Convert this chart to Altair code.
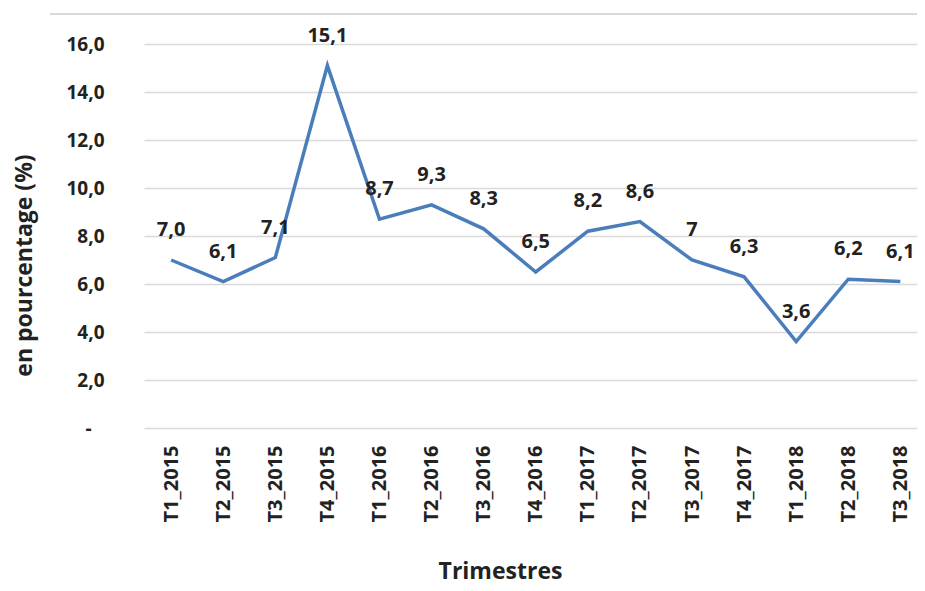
import altair as alt
import pandas as pd

trimestres = ["T1_2015", "T2_2015", "T3_2015", "T4_2015", "T1_2016", "T2_2016",
              "T3_2016", "T4_2016", "T1_2017", "T2_2017", "T3_2017", "T4_2017",
              "T1_2018", "T2_2018", "T3_2018"]
valeurs = [7.0, 6.1, 7.1, 15.1, 8.7, 9.3, 8.3, 6.5, 8.2, 8.6, 7.0, 6.3, 3.6, 6.2, 6.1]
etiquettes = ["7,0", "6,1", "7,1", "15,1", "8,7", "9,3", "8,3", "6,5", "8,2", "8,6",
              "7", "6,3", "3,6", "6,2", "6,1"]

df = pd.DataFrame({"trimestre": trimestres, "valeur": valeurs, "etiquette": etiquettes})

FONT = "Open Sans"
TXT = "#222222"

x_enc = alt.X(
    "trimestre:N", sort=trimestres,
    scale=alt.Scale(type="point", padding=0.42, align=0.62),
    axis=alt.Axis(
        title="Trimestres", labelAngle=-90, labelAlign="right", labelBaseline="middle",
        labelPadding=17, ticks=False, domain=False, grid=False,
        labelFont=FONT, labelFontSize=20, labelFontWeight="bold", labelColor=TXT,
        titleFont=FONT, titleFontSize=23, titleFontWeight="bold", titleColor=TXT,
        titleX=356, titleY=150, titleAlign="center", titleBaseline="alphabetic",
    ),
)
y_enc = alt.Y(
    "valeur:Q",
    scale=alt.Scale(domain=[0, 16], nice=False),
    axis=alt.Axis(
        title="en pourcentage (%)", values=[0, 2, 4, 6, 8, 10, 12, 14, 16],
        labelExpr="datum.value == 0 ? '-' : replace(format(datum.value, '.1f'), '.', ',')",
        ticks=False, domain=False, grid=True, gridColor="#d9d9d9", gridWidth=1.5,
        labelPadding={"condition": {"test": "datum.value == 0", "value": 53}, "value": 40},
        labelFont=FONT, labelFontSize=19, labelFontWeight="bold",
        labelColor=TXT,
        titleFont=FONT, titleFontSize=23, titleFontWeight="bold", titleColor=TXT,
        titleX=-120, titleY=221, titleAngle=-90, titleAlign="center", titleBaseline="middle",
    ),
)

base = alt.Chart(df)

line = base.mark_line(color="#4A7EBB", strokeWidth=3.5).encode(x=x_enc, y=y_enc)
labels = base.mark_text(dy=-30, font=FONT, fontSize=20, fontWeight="bold", color=TXT).encode(
    x=alt.X("trimestre:N", sort=trimestres),
    y="valeur:Q",
    text="etiquette:N",
)
top_rule = alt.Chart(df).mark_rule(color="#d9d9d9", strokeWidth=2).encode(
    x=alt.value(-94), x2=alt.value(781), y=alt.value(-30)
)

chart = alt.layer(top_rule, line, labels).properties(
    width=773, height=384,
    autosize=alt.AutoSizeParams(type="none"),
    padding={"left": 136, "top": 36, "right": 0, "bottom": 155},
).configure_view(stroke=None)

chart.save("out.html", embed_options={"renderer": "svg", "actions": False})
